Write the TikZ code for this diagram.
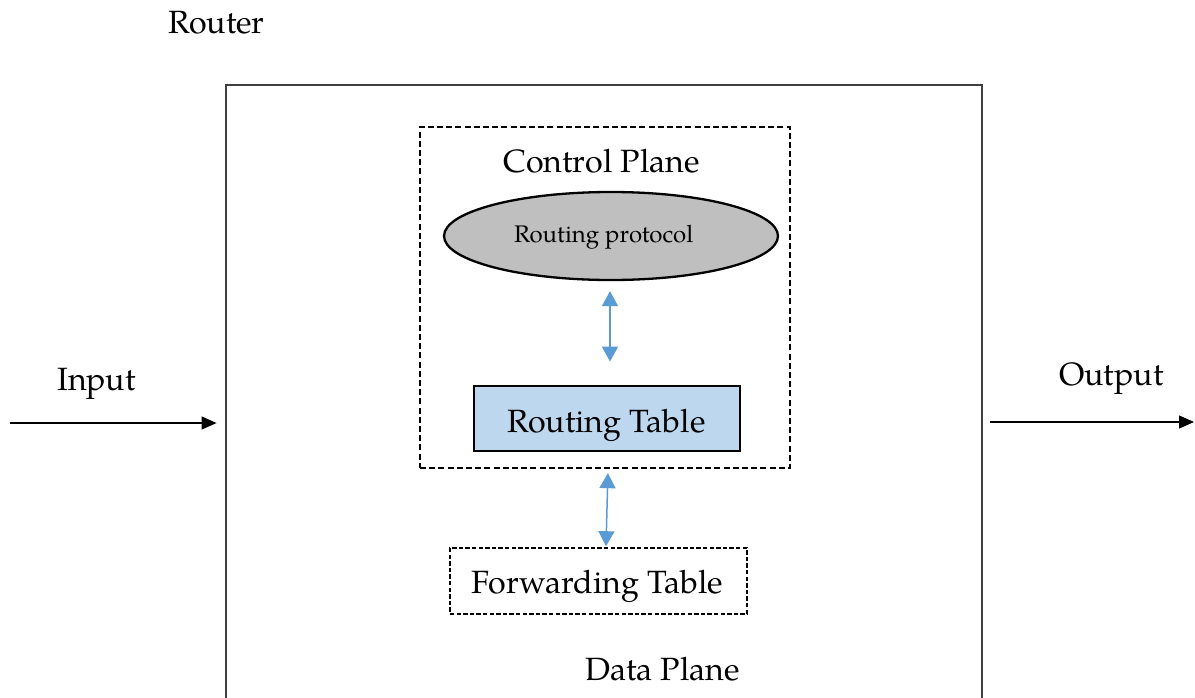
\documentclass[tikz,border=0pt]{standalone}
\usepackage{fontspec}
\setmainfont{TeX Gyre Pagella}
\usetikzlibrary{arrows.meta,shapes.geometric}

\definecolor{framegray}{HTML}{404040}
\definecolor{linkblue}{HTML}{5B9BD5}
\definecolor{tablefill}{HTML}{BDD7EE}
\definecolor{protofill}{HTML}{BFBFBF}

\tikzset{
  bigtext/.style={font=\fontsize{16.1}{18}\selectfont, inner sep=0pt, anchor=base},
  smalltext/.style={font=\fontsize{12}{14}\selectfont, inner sep=0pt, anchor=base},
  routerbox/.style={draw=framegray, line width=1.4pt, inner sep=0pt,
    minimum width=378pt, minimum height=337.5pt},
  planebox/.style={draw=black, line width=1.15pt, dash pattern=on 3pt off 1.6pt,
    inner sep=0pt, minimum width=185pt, minimum height=170.5pt},
  protocol/.style={ellipse, draw=black, line width=1.15pt, fill=protofill,
    inner sep=0pt, minimum width=167pt, minimum height=44pt},
  tablebox/.style={draw=black, line width=1.4pt, fill=tablefill,
    inner sep=0pt, minimum width=133pt, minimum height=32.5pt},
  fwdbox/.style={draw=black, line width=0.8pt, dash pattern=on 2.2pt off 1.1pt,
    inner sep=0pt, minimum width=148.5pt, minimum height=33pt},
  flow/.style={draw=black, line width=0.6pt,
    -{Triangle[length=7.5pt, width=6.5pt]}},
  link/.style={draw=linkblue, line width=0.75pt,
    {Triangle[length=7.5pt, width=8pt]}-{Triangle[length=7.5pt, width=8pt]}}
}

\begin{document}
\begin{tikzpicture}[x=0.5pt, y=-0.5pt]
  \useasboundingbox (0,0) rectangle (1195,697);

  % frames and boxes
  \node[routerbox] (router) at (604,422.5) {};
  \node[planebox] (cplane) at (605,297.5) {};
  \node[protocol] (proto) at (611,236) {};
  \node[tablebox] (rtable) at (607,418.5) {};
  \node[fwdbox] (fwd) at (598.5,581) {};

  % labels
  \node[bigtext] (routerlbl) at (216.5,33) {Router};
  \node[bigtext] (cplbl) at (601.5,172) {Control Plane};
  \node[smalltext] (protolbl) at (603.7,242) {Routing protocol};
  \node[bigtext] (rtlbl) at (606.5,432) {Routing Table};
  \node[bigtext] (fwdlbl) at (597.5,593) {Forwarding Table};
  \node[bigtext] (dplbl) at (662.5,680) {Data Plane};
  \node[bigtext] (inlbl) at (96.5,390) {Input};
  \node[bigtext] (outlbl) at (1111.5,385) {Output};

  % input / output flows
  \coordinate (inA) at (10,423);
  \coordinate (outB) at (1194,422);
  \draw[flow, shorten >=4pt] (inA) -- (inA -| router.west);
  \draw[flow, shorten <=3.5pt] (outB -| router.east) -- (outB);

  % exchanges between protocol, routing table and forwarding table
  \draw[link, shorten <=5pt, shorten >=11.5pt]
    ([xshift=-0.5pt]proto.south) -- ([xshift=-0.5pt]proto.south |- rtable.north);
  \draw[link, shorten <=2pt, shorten >=0.5pt]
    ([xshift=1.5pt]cplane.south) -- ([xshift=3.75pt]fwd.north);
\end{tikzpicture}
\end{document}
